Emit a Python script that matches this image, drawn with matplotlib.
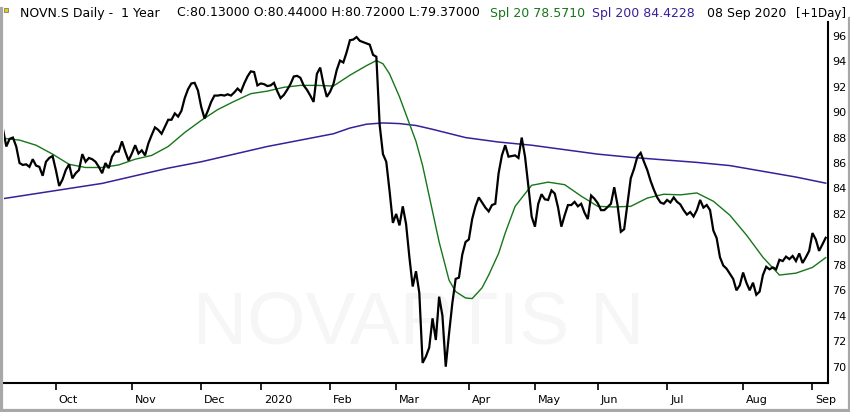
import matplotlib
matplotlib.use('Agg')
import matplotlib.pyplot as plt
import matplotlib.transforms as mtransforms
from matplotlib.lines import Line2D
from matplotlib.patches import Rectangle

# ---------------- data (trading-day index, 0 = 9 Sep 2019) ----------------
close = [
    88.65, 87.3, 87.9, 88.0, 87.3, 86.0, 85.85, 85.9, 85.7, 86.3,
    85.8, 85.7, 85.0, 86.1, 86.4, 86.55, 85.45, 84.2, 84.7, 85.45,
    85.9, 84.8, 85.2, 85.45, 86.7, 86.1, 86.4, 86.3, 86.1, 85.7,
    85.2, 86.0, 85.6, 86.5, 86.9, 86.9, 87.7, 86.9, 86.2, 86.75,
    87.4, 86.75, 87.0, 86.6, 87.55, 88.2, 88.8, 88.6, 88.3, 88.85,
    89.4, 89.4, 89.9, 89.65, 90.1, 91.1, 91.8, 92.25, 92.3, 91.7,
    90.4, 89.5, 90.1, 90.8, 91.3, 91.3, 91.35, 91.3, 91.4, 91.3,
    91.55, 91.85, 91.6, 92.25, 92.8, 93.2, 93.15, 92.1, 92.25, 92.2,
    92.05, 92.1, 92.3, 91.65, 91.1, 91.35, 91.75, 92.2, 92.8, 92.85,
    92.7, 92.1, 91.75, 91.3, 90.8, 93.0, 93.5, 92.2, 91.2, 91.6,
    92.2, 93.3, 94.05, 93.9, 94.7, 95.65, 95.7, 95.9, 95.6, 95.5,
    95.4, 95.3, 94.5, 94.35, 89.0, 86.7, 86.1, 83.8, 81.3, 82.0,
    81.1, 82.6, 81.2, 78.6, 76.3, 77.5, 75.8, 70.3, 70.8, 71.5,
    73.8, 72.1, 75.5, 74.0, 70.0, 72.6, 75.0, 76.9, 77.0, 78.8,
    79.8, 80.0, 81.6, 82.6, 83.3, 82.9, 82.5, 82.2, 82.7, 82.8,
    85.2, 86.6, 87.4, 86.5, 86.55, 86.6, 86.4, 88.0, 86.5, 84.2,
    81.8, 81.0, 82.8, 83.55, 83.15, 83.1, 83.85, 83.6, 82.5, 81.0,
    81.9, 82.7, 82.7, 82.95, 82.6, 82.8, 82.1, 81.6, 83.45, 83.2,
    82.85, 82.3, 82.3, 82.55, 82.8, 84.1, 82.7, 80.6, 80.8, 82.8,
    84.8, 85.55, 86.5, 86.8, 86.1, 85.45, 84.6, 83.9, 83.3, 82.9,
    82.8, 83.1, 82.9, 83.3, 82.95, 82.75, 82.3, 81.95, 82.15, 81.8,
    82.3, 83.1, 82.5, 82.7, 82.3, 80.7, 80.1, 78.6, 77.95, 77.7,
    77.3, 76.9, 76.0, 76.4, 77.4, 76.6, 76.0, 76.6, 75.65, 75.9,
    77.2, 77.85, 77.65, 77.8, 77.65, 78.4, 78.3, 78.65, 78.45, 78.7,
    78.3, 78.9, 78.15, 78.6, 79.1, 80.5, 80.0, 79.1, 79.6, 80.13,
]

spl20_day = [0, 5, 10, 15, 20, 25, 30, 35, 40, 45, 50, 55, 60, 65, 70, 75, 80,
             85, 90, 95, 100, 105, 110, 113, 115, 117, 120, 122, 125, 127, 130,
             132, 135, 137, 140, 142, 145, 147, 150, 152, 155, 160, 165, 170,
             175, 180, 185, 190, 195, 200, 205, 210, 215, 220, 225, 230, 235,
             240, 245, 249]
spl20_val = [87.95, 87.8, 87.4, 86.7, 85.9, 85.65, 85.65, 85.85, 86.3, 86.6,
             87.3, 88.4, 89.35, 90.2, 90.85, 91.45, 91.65, 91.95, 92.1, 92.1,
             92.05, 92.9, 93.65, 94.05, 93.8, 93.0, 91.2, 89.8, 87.7, 85.8,
             82.2, 79.8, 76.8, 75.9, 75.4, 75.35, 76.2, 77.2, 78.9, 80.5,
             82.6, 84.25, 84.5, 84.3, 83.4, 82.6, 82.55, 82.6, 83.25, 83.55,
             83.5, 83.65, 83.0, 81.9, 80.35, 78.6, 77.2, 77.35, 77.8, 78.57]

spl200_day = [0, 10, 20, 30, 40, 50, 60, 70, 80, 90, 100, 105, 110, 115, 120,
              125, 130, 140, 150, 160, 170, 180, 190, 200, 210, 220, 230, 240,
              249]
spl200_val = [83.2, 83.6, 84.0, 84.4, 85.0, 85.6, 86.1, 86.7, 87.3, 87.8, 88.3,
              88.75, 89.05, 89.15, 89.1, 88.95, 88.65, 88.0, 87.65, 87.4,
              87.05, 86.7, 86.45, 86.25, 86.05, 85.8, 85.35, 84.9, 84.42]

month_pos = [16, 39, 60, 78, 99, 119, 141, 161, 180, 201, 224, 245]
month_lbl = ['Oct', 'Nov', 'Dec', '2020', 'Feb', 'Mar', 'Apr', 'May', 'Jun',
             'Jul', 'Aug', 'Sep']
y_ticks = list(range(70, 97, 2))

GREEN = '#17761a'
PURPLE = '#3a1f9a'

# ---------------- figure ----------------
W, H = 850, 412
fig = plt.figure(figsize=(W / 100, H / 100), dpi=100)
fig.patch.set_facecolor('white')


def fx(px):
    return px / W


def fy(py):
    return 1 - py / H


ax = fig.add_axes([fx(4), fy(383), (828 - 4) / W, (383 - 22) / H])
ax.set_facecolor('white')

# watermark
ax.text(fx(418.5), fy(343), 'NOVARTIS N', transform=fig.transFigure,
        fontsize=54, family=['Liberation Sans', 'DejaVu Sans'],
        color='#f6f6f6', ha='center', va='baseline', zorder=0)

ax.plot(spl200_day, spl200_val, color=PURPLE, lw=1.1, zorder=3)
ax.plot(spl20_day, spl20_val, color=GREEN, lw=1.0, zorder=3)
ax.plot(range(len(close)), close, color='black', lw=1.6, zorder=4,
        solid_joinstyle='miter')

ax.set_xlim(0.3, 249.7)
ax.set_ylim(68.72, 97.08)

for s in ('left', 'top'):
    ax.spines[s].set_visible(False)
for s in ('right', 'bottom'):
    ax.spines[s].set_linewidth(1.5)
    ax.spines[s].set_color('black')

ax.yaxis.tick_right()
ax.set_yticks(y_ticks)
ax.set_yticklabels([str(v) for v in y_ticks])
ax.tick_params(axis='y', length=0, pad=3, labelsize=8)

ax.set_xticks(month_pos)
ax.set_xticklabels([''] * len(month_pos))
ax.tick_params(axis='x', length=5, width=1.2, direction='out', color='black')

off = mtransforms.ScaledTranslation(3 / 100, -12 / 100, fig.dpi_scale_trans)
btr = mtransforms.blended_transform_factory(ax.transData, ax.transAxes)
for p, l in zip(month_pos, month_lbl):
    ax.text(p, 0, l, transform=btr + off, ha='left', va='top', fontsize=8,
            clip_on=False)

# header
hy = fy(13)
fig.text(fx(20), hy, 'NOVN.S Daily -  1 Year', fontsize=9, va='center')
fig.text(fx(177), hy, 'C:80.13000 O:80.44000 H:80.72000 L:79.37000',
         fontsize=9, va='center')
fig.text(fx(490), hy, 'Spl 20 78.5710', fontsize=9, va='center', color=GREEN)
fig.text(fx(592), hy, 'Spl 200 84.4228', fontsize=9, va='center', color=PURPLE)
fig.text(fx(707), hy, '08 Sep 2020', fontsize=9, va='center')
fig.text(fx(846), hy, '[+1Day]', fontsize=8.5, va='center', ha='right')

# small flag icon
fig.patches.append(Rectangle((fx(4), fy(12)), 4 / W, 4 / H,
                             transform=fig.transFigure, facecolor='#e6d200',
                             edgecolor='#666666', lw=0.5))

# grey frame
frame = dict(color='#a8a8a8', lw=2.3, transform=fig.transFigure)
fig.add_artist(Line2D([fx(1.2), fx(1.2)], [fy(8), fy(411)], **frame))
fig.add_artist(Line2D([fx(848.8), fx(848.8)], [fy(18), fy(411)], **frame))
fig.add_artist(Line2D([fx(0), fx(850)], [fy(410), fy(410)], **frame))

fig.savefig('out.png', dpi=100, facecolor='white')
